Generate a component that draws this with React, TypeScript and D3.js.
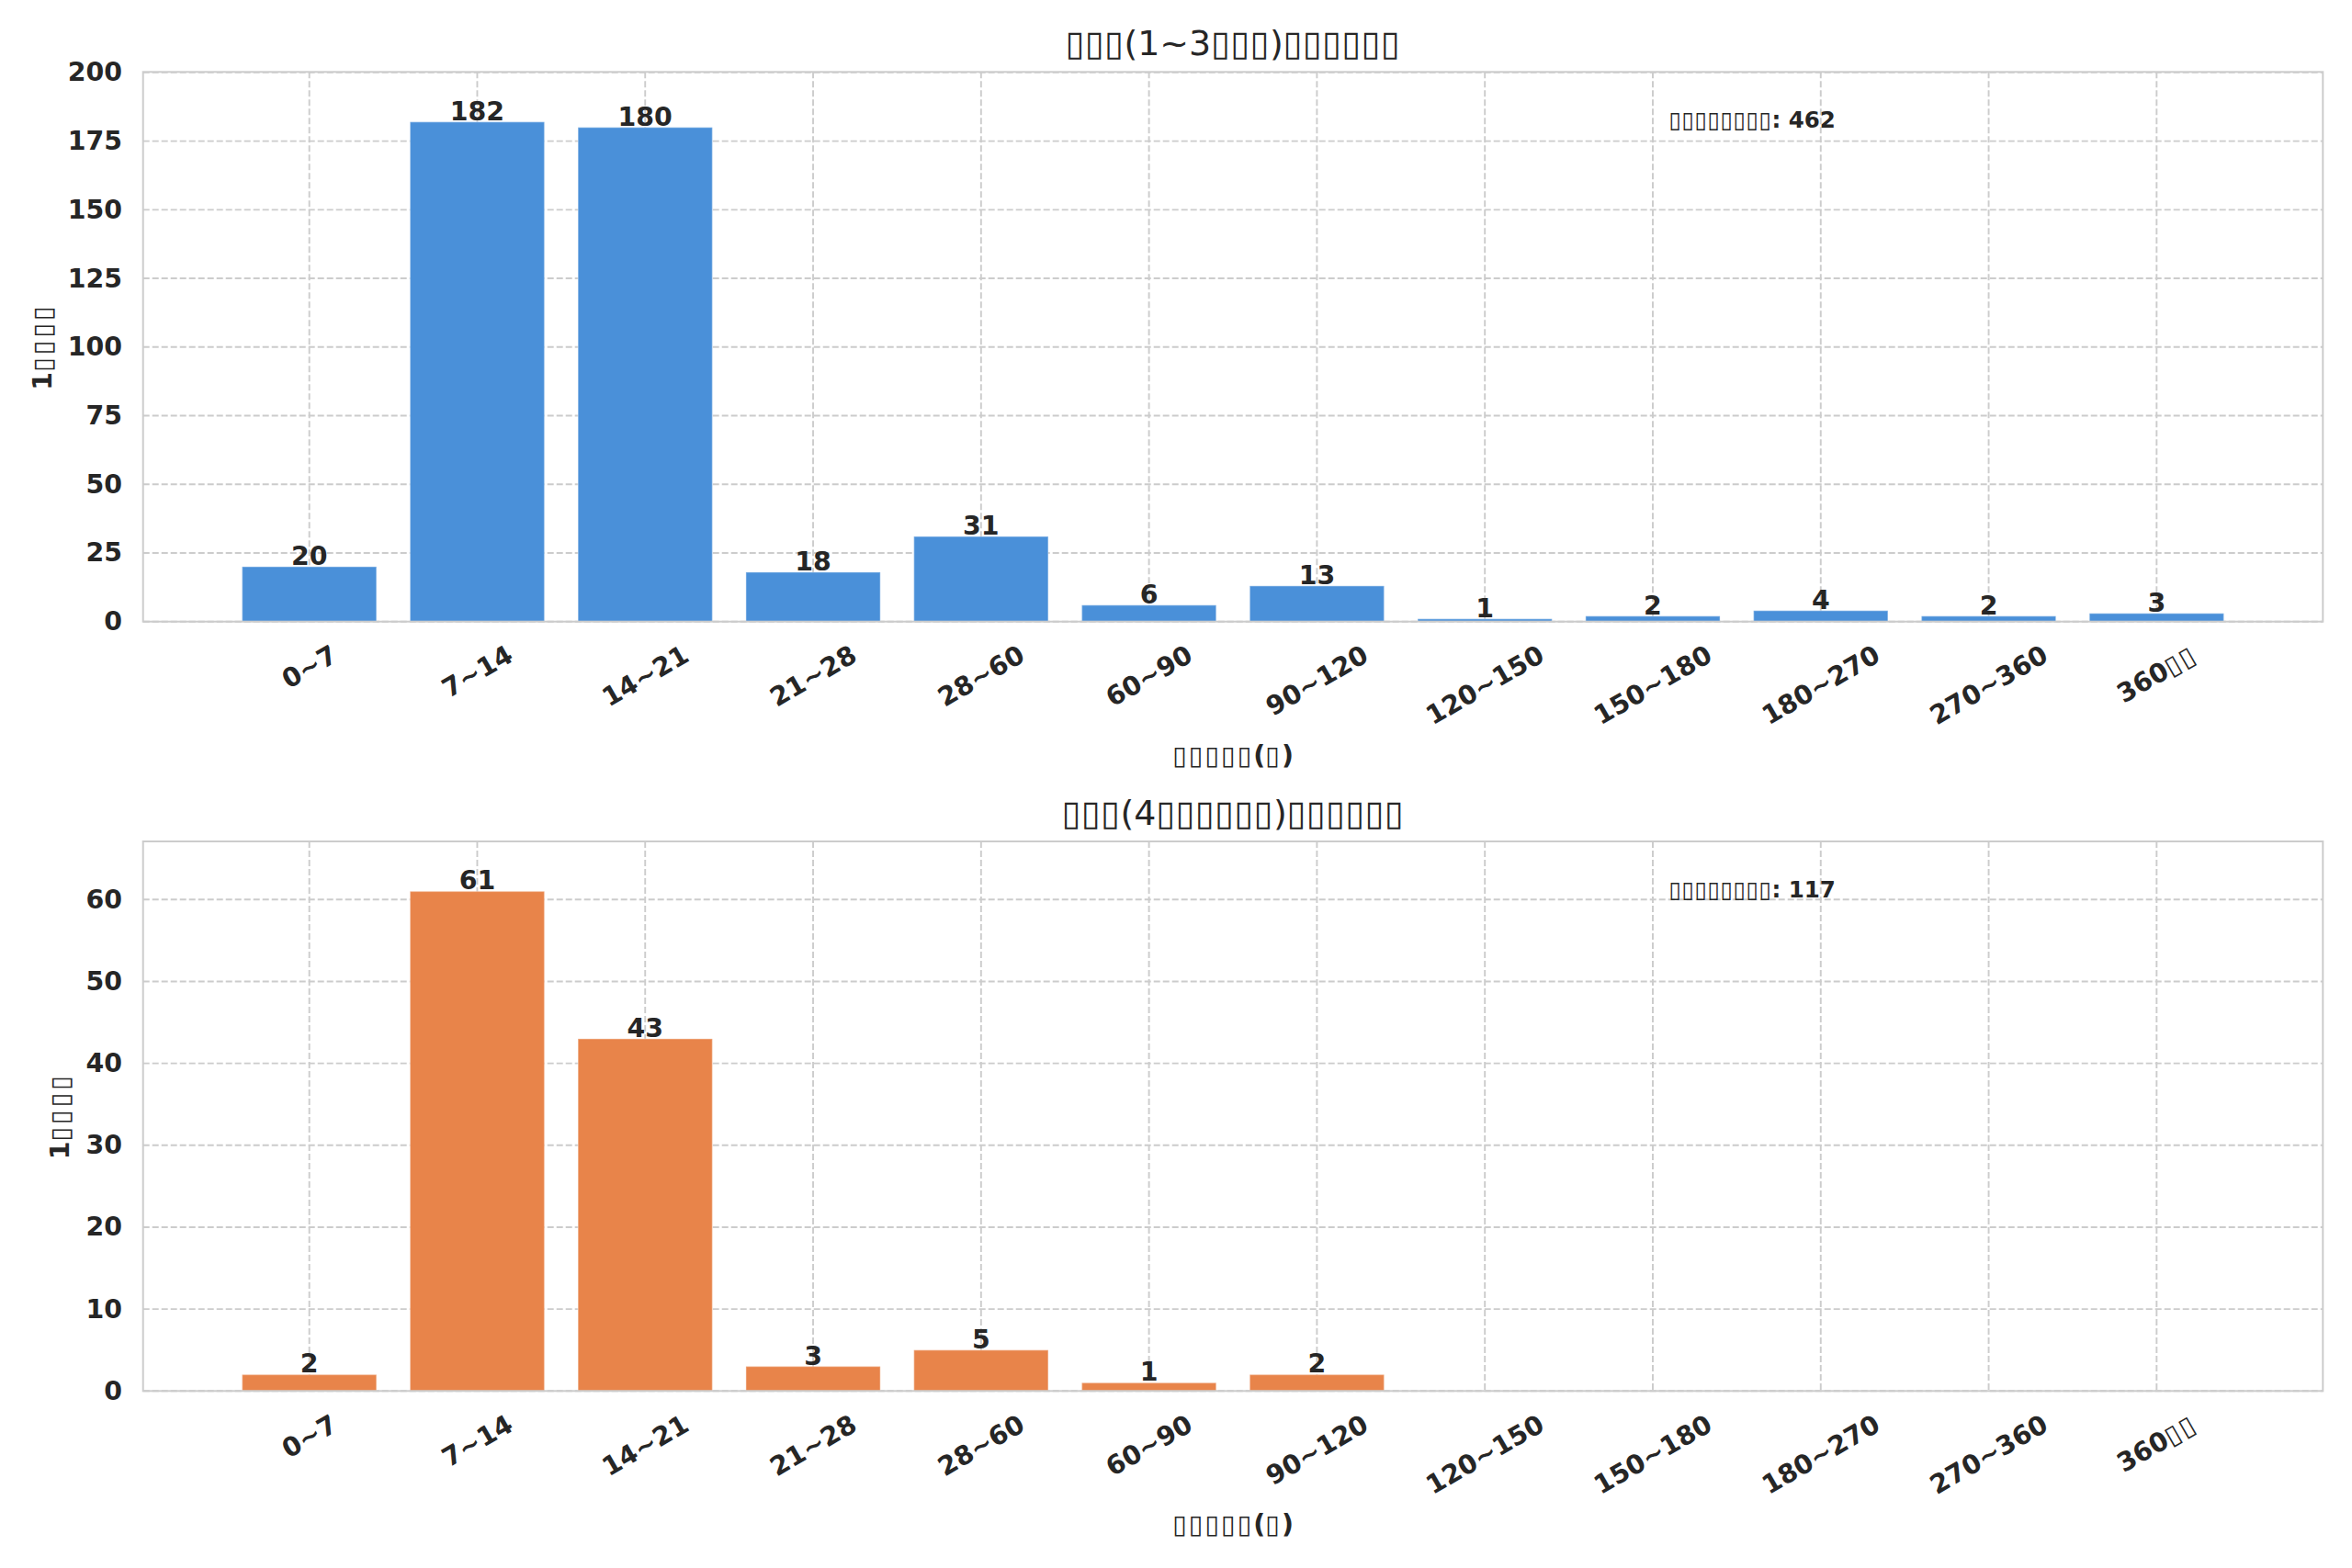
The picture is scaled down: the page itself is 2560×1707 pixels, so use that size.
import { useEffect, useRef } from "react"
import * as d3 from 'd3'

// tofu boxes stand in for the glyphs the original font could not draw
const categories = ['0~7', '7~14', '14~21', '21~28', '28~60', '60~90', '90~120', '120~150', '150~180', '180~270', '270~360', '360▯▯']
const lowFreq = [20, 182, 180, 18, 31, 6, 13, 1, 2, 4, 2, 3]
const highFreq = [2, 61, 43, 3, 5, 1, 2, 0, 0, 0, 0, 0]
const topTicks = [0, 25, 50, 75, 100, 125, 150, 175, 200]
const bottomTicks = [0, 10, 20, 30, 40, 50, 60]
const titles = ['▯▯▯(1~3▯▯▯)▯▯▯▯▯▯', '▯▯▯(4▯▯▯▯▯▯)▯▯▯▯▯▯']
const xLabel = '▯▯▯▯▯(▯)'
const yLabel = '1▯▯▯▯'
const noteLabel = '▯▯▯▯▯▯▯▯'
const colors = ['#4a90d9', '#e8844a']

const W = 2560
const H = 1707
const TEXT = '#262626'
const GRID = '#cccccc'

function addText(sel: any, str: string, spacing = 0) {
  str.split(/(▯+)/).filter(Boolean).forEach(p => {
    const t = sel.append('tspan').text(p)
    if (p.startsWith('▯')) {
      t.attr('font-weight', 'normal')
      if (spacing) t.attr('letter-spacing', spacing)
    }
  })
}

export default function App() {
  const svgRef = useRef<SVGSVGElement>(null)

  useEffect(() => {
    document.body.style.margin = '0'
    const svg = d3.select(svgRef.current)
    svg.selectAll('*').remove()

    const left = 155.7
    const right = 2528.3
    const panels = [
      { top: 78.3, bottom: 676.7, values: lowFreq, ticks: topTicks, title: titles[0], color: colors[0] },
      { top: 916, bottom: 1514.3, values: highFreq, ticks: bottomTicks, title: titles[1], color: colors[1] },
    ]

    const xScale = d3.scaleLinear().domain([-0.99, 11.99]).range([left, right])
    const bw = xScale(0.8) - xScale(0)

    panels.forEach(p => {
      const yScale = d3.scaleLinear()
        .domain([0, (d3.max(p.values) as number) * 1.1])
        .range([p.bottom, p.top])
      const g = svg.append('g').attr('font-family', '"DejaVu Sans", sans-serif').attr('fill', TEXT)

      // grid
      g.selectAll('.hg').data(p.ticks).join('line')
        .attr('x1', left).attr('x2', right)
        .attr('y1', d => yScale(d)).attr('y2', d => yScale(d))
        .attr('stroke', GRID).attr('stroke-width', 1.9).attr('stroke-dasharray', '7,3')
      g.selectAll('.vg').data(categories).join('line')
        .attr('x1', (d, i) => xScale(i)).attr('x2', (d, i) => xScale(i))
        .attr('y1', p.top).attr('y2', p.bottom)
        .attr('stroke', GRID).attr('stroke-width', 1.9).attr('stroke-dasharray', '7,3')

      // bars
      g.selectAll('.bar').data(p.values).join('rect')
        .attr('x', (d, i) => xScale(i - 0.4))
        .attr('width', bw)
        .attr('y', d => yScale(d))
        .attr('height', d => yScale(0) - yScale(d))
        .attr('fill', p.color)
        .attr('stroke', 'white').attr('stroke-opacity', 0.3).attr('stroke-width', 1.5)
        .style('display', d => d > 0 ? null : 'none')

      // frame
      g.append('rect')
        .attr('x', left).attr('y', p.top)
        .attr('width', right - left).attr('height', p.bottom - p.top)
        .attr('fill', 'none').attr('stroke', GRID).attr('stroke-width', 2)

      // value labels, only for non-empty bins
      p.values.forEach((v, i) => {
        if (v <= 0) return
        g.append('text')
          .attr('x', xScale(i))
          .attr('y', yScale(v) - 2)
          .attr('text-anchor', 'middle')
          .attr('font-size', 28.4).attr('font-weight', 'bold')
          .text(v)
      })

      // y ticks
      let maxW = 0
      p.ticks.forEach(t => {
        const tx = g.append('text')
          .attr('x', left - 22.7).attr('y', yScale(t))
          .attr('text-anchor', 'end').attr('dominant-baseline', 'central')
          .attr('font-size', 28.4).attr('font-weight', 'bold')
          .text(t)
        maxW = Math.max(maxW, (tx.node() as SVGTextElement).getComputedTextLength())
      })

      // x ticks, rotated 30deg, centred on the tick
      categories.forEach((c, i) => {
        const tx = g.append('text')
          .attr('text-anchor', 'middle').attr('dominant-baseline', 'central')
          .attr('font-size', 28.4).attr('font-weight', 'bold')
        addText(tx, c, 2)
        const w = (tx.node() as SVGTextElement).getComputedTextLength()
        const bh = w * 0.5 + 28.4 * 1.164 * 0.866
        const cy = p.bottom + 19 + bh / 2
        tx.attr('transform', `translate(${xScale(i)},${cy}) rotate(-30)`)
      })

      // title
      const title = g.append('text')
        .attr('x', (left + right) / 2).attr('y', p.top - 18.3)
        .attr('text-anchor', 'middle').attr('font-size', 37.9)
      addText(title, p.title, 0.4)

      // x label
      const xl = g.append('text')
        .attr('x', (left + right) / 2).attr('y', p.bottom + 155)
        .attr('text-anchor', 'middle').attr('font-size', 28.4).attr('font-weight', 'bold')
      addText(xl, xLabel, 2)

      // y label
      const yl = g.append('text')
        .attr('transform', `translate(${left - 22.7 - maxW - 28},${(p.top + p.bottom) / 2}) rotate(-90)`)
        .attr('text-anchor', 'middle').attr('dominant-baseline', 'central')
        .attr('font-size', 28.4).attr('font-weight', 'bold')
      addText(yl, yLabel, 3)

      // total note
      const note = g.append('text')
        .attr('x', left + 0.7 * (right - left)).attr('y', p.top + 60.7)
        .attr('font-size', 24.5).attr('font-weight', 'bold')
      addText(note, `${noteLabel}: ${d3.sum(p.values)}`, 0.5)
    })
  }, [])

  return (
    <svg ref={svgRef} width={W} height={H} style={{ display: 'block', background: 'white' }}></svg>
  )
}
